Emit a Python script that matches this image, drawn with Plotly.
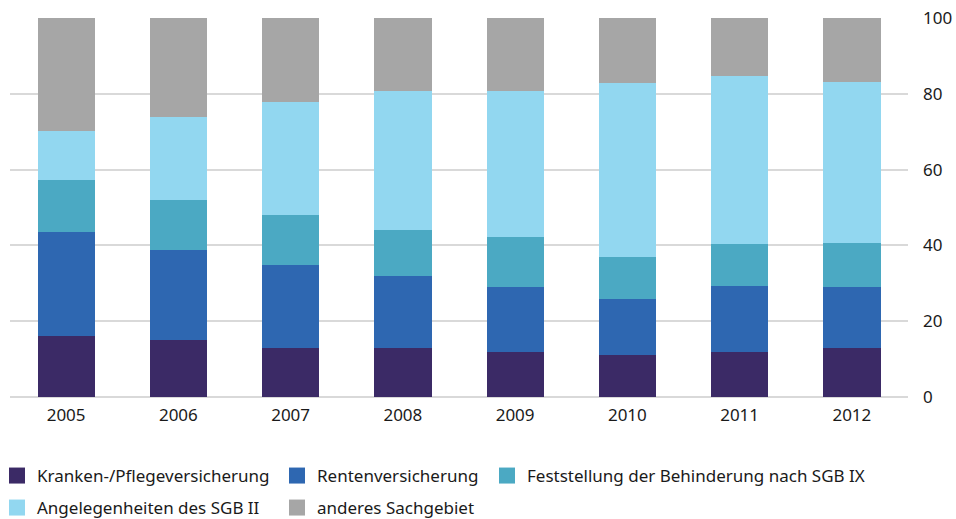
import plotly.graph_objects as go

years = ["2005", "2006", "2007", "2008", "2009", "2010", "2011", "2012"]

kranken = [16, 15, 13, 13, 12, 11, 12, 13]
renten = [27.5, 23.8, 21.9, 19, 17.1, 14.9, 17.2, 15.9]
feststellung = [13.8, 13.2, 13.2, 12, 13, 11.1, 11.1, 11.8]
angelegenheiten = [12.9, 21.9, 29.7, 36.7, 38.6, 45.8, 44.3, 42.5]
anderes = [29.8, 26.1, 22.2, 19.3, 19.3, 17.2, 15.4, 16.8]

series = [
    ("Kranken-/Pflegeversicherung", kranken, "#3b2a66"),
    ("Rentenversicherung", renten, "#2e67b1"),
    ("Feststellung der Behinderung nach SGB IX", feststellung, "#4ba9c3"),
    ("Angelegenheiten des SGB II", angelegenheiten, "#92d7f0"),
    ("anderes Sachgebiet", anderes, "#a6a6a6"),
]

# legend entry positions (symbol centre in px, row centre in px)
legend_pos = [(17, 476), (297, 476), (507, 476), (17, 508), (297, 508)]

L, R, T, B = 10, 48, 18, 122
W, H = 956, 519
pw, ph = W - L - R, H - T - B

fig = go.Figure()
legend_layout = {}
for i, (name, vals, color) in enumerate(series):
    lg = "legend" if i == 0 else f"legend{i + 1}"
    fig.add_trace(go.Bar(x=years, y=vals, name=name, marker_color=color,
                         marker_line_width=0, showlegend=False))
    # square legend swatch
    fig.add_trace(go.Scatter(x=[None], y=[None], mode="markers", name=name,
                             marker=dict(symbol="square", size=16, color=color),
                             legend=lg))
    sx, sy = legend_pos[i]
    legend_layout[lg] = dict(
        x=(sx - 20 - L) / pw, xanchor="left",
        y=(H - B - sy) / ph, yanchor="middle",
        orientation="h", bgcolor="rgba(0,0,0,0)", borderwidth=0,
        itemsizing="trace",
        font=dict(family="Noto Sans", size=17, color="#1a1a1a"),
    )

fig.update_layout(
    barmode="stack",
    bargap=0.49,
    width=W, height=H,
    margin=dict(l=L, r=R, t=T, b=B, autoexpand=False),
    plot_bgcolor="white",
    paper_bgcolor="white",
    font=dict(family="Noto Sans", size=17, color="#1a1a1a"),
    **legend_layout,
)
fig.update_xaxes(showgrid=False, ticks="", showline=False, automargin=False,
                 ticklabelstandoff=6)
fig.update_yaxes(side="right", range=[0, 100], dtick=20, showgrid=True,
                 gridcolor="#d9d9d9", gridwidth=2, zeroline=True,
                 zerolinecolor="#d9d9d9", zerolinewidth=2, ticks="",
                 ticklabelstandoff=14, automargin=False)

fig.write_html("out.html", config={"displayModeBar": False},
               post_script="document.body.style.margin='0';")
